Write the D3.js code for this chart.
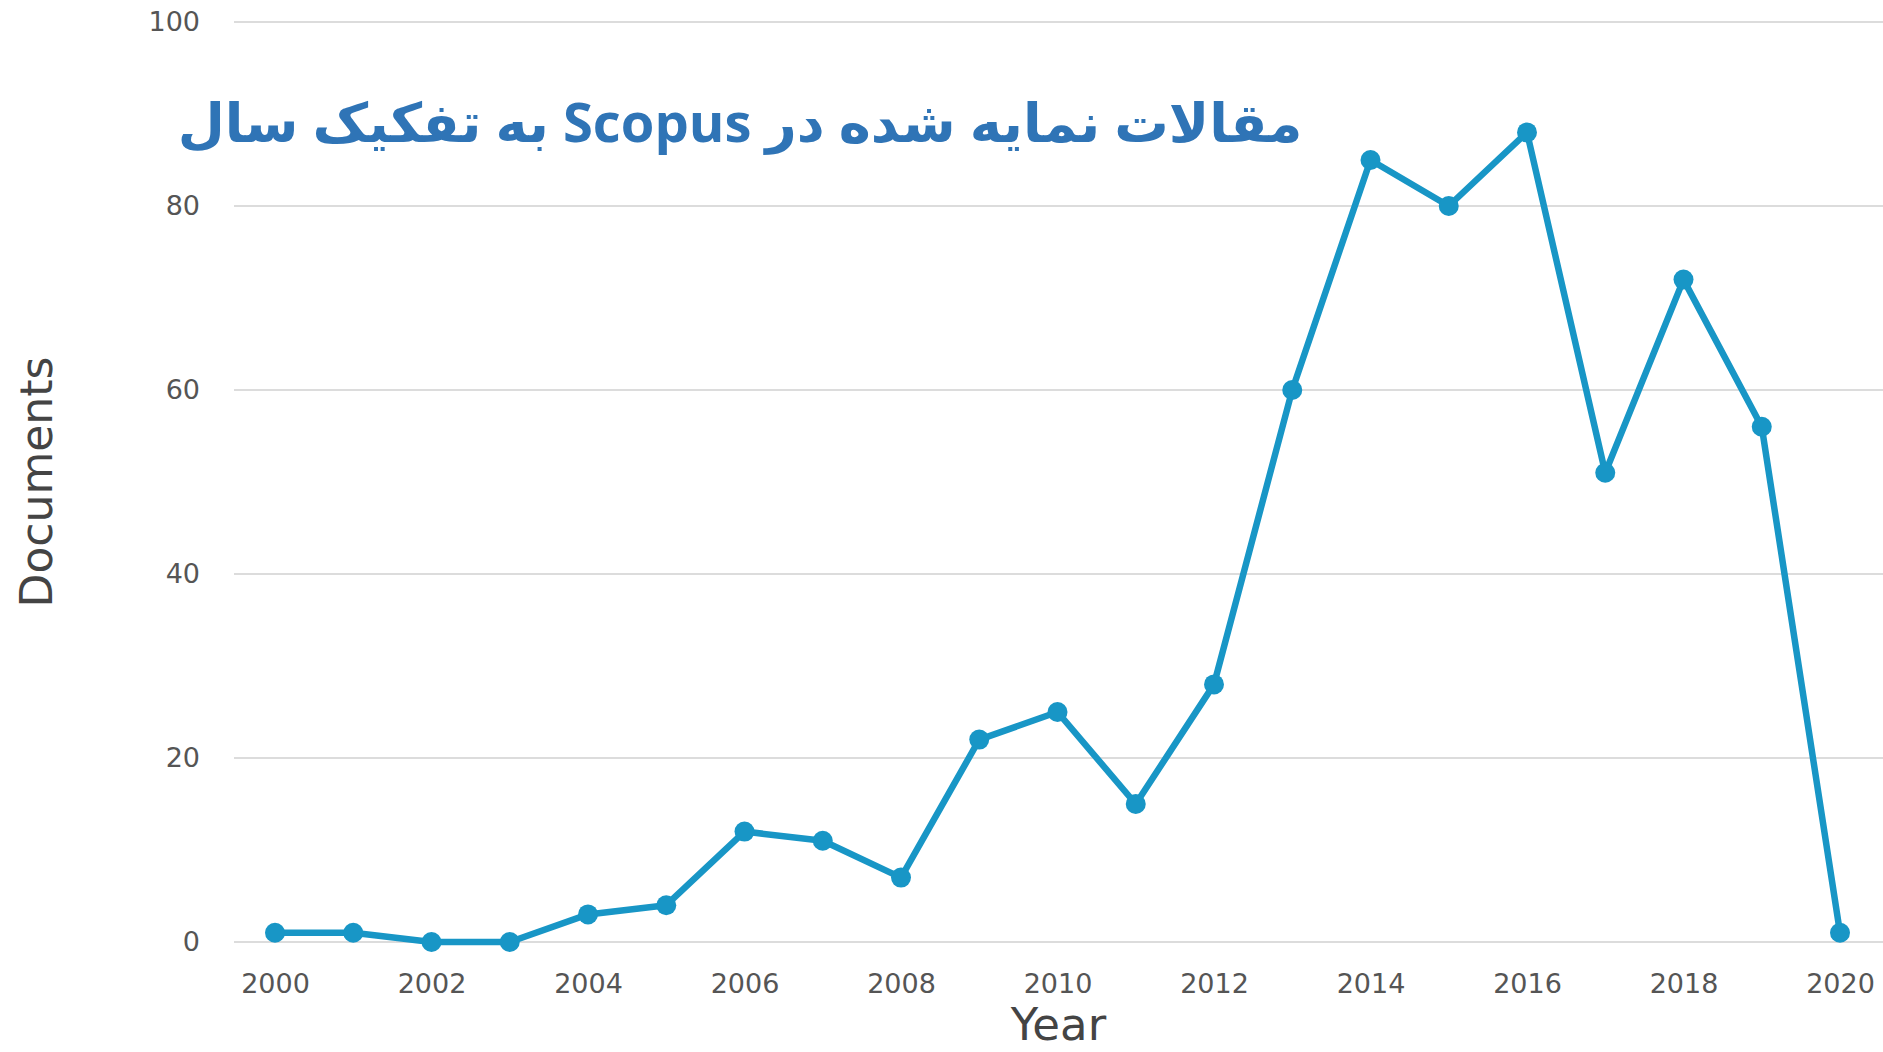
<!DOCTYPE html>
<html>
<head>
<meta charset="utf-8">
<script src="https://cdn.jsdelivr.net/npm/d3@7"></script>
<style>
  body { margin: 0; background: #fff; }
  svg { display: block; }
</style>
</head>
<body>
<svg id="chart" width="1883" height="1052"></svg>
<script>
// Scopus documents by year
const years = [2000, 2001, 2002, 2003, 2004, 2005, 2006, 2007, 2008, 2009, 2010,
               2011, 2012, 2013, 2014, 2015, 2016, 2017, 2018, 2019, 2020];
const documents = [1, 1, 0, 0, 3, 4, 12, 11, 7, 22, 25, 15, 28, 60, 85, 80, 88, 51, 72, 56, 1];
const xTicks = [2000, 2002, 2004, 2006, 2008, 2010, 2012, 2014, 2016, 2018, 2020];
const yTicks = [0, 20, 40, 60, 80, 100];
const titleText = "مقالات نمایه شده در Scopus به تفکیک سال";

const width = 1883, height = 1052;
const plotLeft = 234, plotRight = 1883;
const lineColor = "#1896c6";

const svg = d3.select("#chart");

const x = d3.scaleLinear().domain([2000, 2020]).range([275, 1840]);
const y = d3.scaleLinear().domain([0, 100]).range([942, 22]);

// gridlines
svg.append("g")
    .selectAll("line")
    .data(yTicks)
    .join("line")
    .attr("x1", plotLeft)
    .attr("x2", plotRight)
    .attr("y1", d => y(d))
    .attr("y2", d => y(d))
    .attr("stroke", "#dcdcdc")
    .attr("stroke-width", 2);

// y axis labels
const yAxis = svg.append("g")
    .attr("transform", `translate(${plotLeft},0)`)
    .call(d3.axisLeft(y).tickValues(yTicks).tickSize(0).tickPadding(34));
yAxis.select(".domain").remove();
yAxis.selectAll("text")
    .attr("font-family", "DejaVu Sans")
    .attr("font-size", 27)
    .attr("fill", "#555");

// x axis labels
const xAxis = svg.append("g")
    .attr("transform", `translate(0,${y(0)})`)
    .call(d3.axisBottom(x).tickValues(xTicks).tickFormat(d3.format("d")).tickSize(0).tickPadding(32));
xAxis.select(".domain").remove();
xAxis.selectAll("text")
    .attr("font-family", "DejaVu Sans")
    .attr("font-size", 27)
    .attr("fill", "#555");

// axis titles
svg.append("text")
    .attr("x", (plotLeft + plotRight) / 2)
    .attr("y", 1040)
    .attr("text-anchor", "middle")
    .attr("font-family", "DejaVu Sans")
    .attr("font-size", 45)
    .attr("fill", "#444")
    .text("Year");

svg.append("text")
    .attr("transform", `translate(52,${(y(0) + y(100)) / 2}) rotate(-90)`)
    .attr("text-anchor", "middle")
    .attr("font-family", "DejaVu Sans")
    .attr("font-size", 44)
    .attr("fill", "#444")
    .text("Documents");

// line + markers
const pts = years.map((yr, i) => ({ year: yr, value: documents[i] }));

svg.append("path")
    .datum(pts)
    .attr("fill", "none")
    .attr("stroke", lineColor)
    .attr("stroke-width", 6.5)
    .attr("stroke-linejoin", "round")
    .attr("d", d3.line().x(d => x(d.year)).y(d => y(d.value)));

svg.append("g")
    .selectAll("circle")
    .data(pts)
    .join("circle")
    .attr("cx", d => x(d.year))
    .attr("cy", d => y(d.value))
    .attr("r", 10)
    .attr("fill", lineColor);

// title, fitted to the width it has in the picture
const title = svg.append("text")
    .attr("x", 740)
    .attr("y", 142)
    .attr("text-anchor", "middle")
    .attr("direction", "rtl")
    .style("unicode-bidi", "embed")
    .attr("font-family", "'Open Sans', 'DejaVu Sans'")
    .attr("font-weight", "bold")
    .attr("font-size", 60)
    .attr("fill", "#2f74b6")
    .text(titleText);
const len = title.node().getComputedTextLength();
title.attr("font-size", 60 * 1125 / len);
</script>
</body>
</html>
